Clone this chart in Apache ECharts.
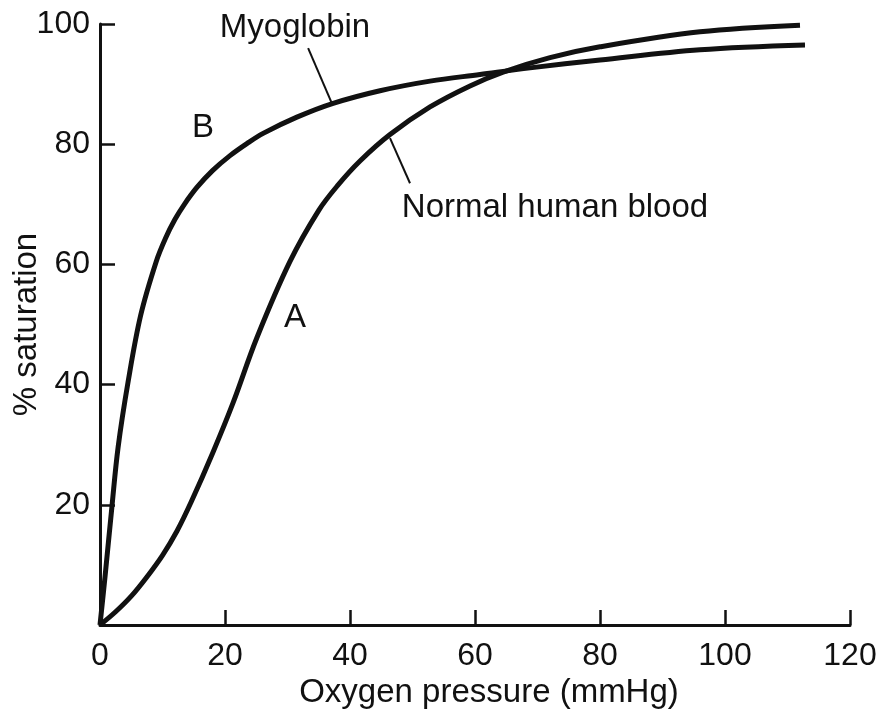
<!DOCTYPE html>
<html>
<head>
<meta charset="utf-8">
<script src="https://cdn.jsdelivr.net/npm/echarts@6/dist/echarts.min.js"></script>
<style>html,body{margin:0;padding:0;background:#fff}#c{width:880px;height:716px}</style>
</head>
<body>
<div id="c"></div>
<script>
// Myoglobin (curve B)
const myoPressure = [0, 0.8, 1.9, 2.9, 4.5, 6.5, 9, 10.5, 12, 13.5, 15.5, 18, 20.8, 23.5, 26.1, 31.5, 37.3, 44.8, 52.8, 60.8, 68.8, 80, 96, 112.8];
const myoSat      = [0, 8, 19.6, 29.6, 40.5, 51.5, 60.5, 64.4, 67.5, 70, 72.8, 75.6, 78.1, 80.1, 81.8, 84.5, 86.8, 88.9, 90.5, 91.6, 92.7, 94.0, 95.7, 96.5];
// Normal human blood (curve A)
const bloodPressure = [0, 2.5, 5, 7.5, 10, 12.3, 14.6, 18.1, 21.3, 25.1, 30.4, 35, 38, 41.6, 46.4, 52.8, 59.2, 64.5, 72, 80, 96, 112];
const bloodSat      = [0, 2.2, 4.8, 8.0, 11.6, 15.6, 20.5, 28.8, 37, 47.8, 60.5, 69, 73.1, 77.2, 81.6, 86.2, 89.7, 92, 94.4, 96.2, 98.7, 99.8];
// axis ticks
const xTicks = [0, 20, 40, 60, 80, 100, 120];
const yTicks = [0, 20, 40, 60, 80, 100];
// annotations (data coordinates)
const labels = [
  {text: 'Myoglobin', at: [31.2, 99.3]},
  {text: 'Normal human blood', at: [72.8, 69.4]},
  {text: 'B', at: [16.5, 82.7]},
  {text: 'A', at: [31.2, 51.1]}
];
const leaders = [
  {from: [33.3, 96.0], to: [37.1, 86.8]},
  {from: [46.4, 81.0], to: [49.6, 73.5]}
];

const FONT = '"Liberation Sans", Arial, Helvetica, sans-serif';
const INK = '#111';
const chart = echarts.init(document.getElementById('c'));
const zip = (a, b) => a.map((v, i) => [v, b[i]]);

chart.setOption({
  animation: false,
  backgroundColor: '#fff',
  grid: {left: 100, right: 30, top: 24, bottom: 91, containLabel: false, outerBoundsMode: 'none'},
  xAxis: {
    type: 'value', min: xTicks[0], max: xTicks[xTicks.length - 1], interval: 20,
    name: 'Oxygen pressure (mmHg)', nameLocation: 'middle', nameGap: 51, nameMoveOverlap: false,
    nameTextStyle: {fontFamily: FONT, fontSize: 33, color: INK, padding: [0, 0, 0, 28]},
    axisLine: {lineStyle: {color: INK, width: 3}},
    axisTick: {inside: true, length: 15, lineStyle: {color: INK, width: 2.5}},
    axisLabel: {margin: 15, fontFamily: FONT, fontSize: 32, color: INK},
    splitLine: {show: false}
  },
  yAxis: {
    type: 'value', min: yTicks[0], max: yTicks[yTicks.length - 1], interval: 20,
    name: '% saturation', nameLocation: 'middle', nameGap: 57, nameMoveOverlap: false,
    nameTextStyle: {fontFamily: FONT, fontSize: 33, color: INK},
    axisLine: {show: true, lineStyle: {color: INK, width: 3}},
    axisTick: {show: true, inside: true, length: 15, lineStyle: {color: INK, width: 2.5}},
    axisLabel: {margin: 10, fontFamily: FONT, fontSize: 32, color: INK,
      formatter: v => v === 0 ? '' : String(v), padding: [10, 0, 0, 0]},
    splitLine: {show: false}
  },
  series: [
    {type: 'line', name: 'Myoglobin', data: zip(myoPressure, myoSat), smooth: 0.35,
      showSymbol: false, lineStyle: {color: INK, width: 5}},
    {type: 'line', name: 'Normal human blood', data: zip(bloodPressure, bloodSat), smooth: 0.35,
      showSymbol: false, lineStyle: {color: INK, width: 5}}
  ]
});

const px = p => chart.convertToPixel({gridIndex: 0}, p);
const graphics = [];
labels.forEach(l => {
  const p = px(l.at);
  graphics.push({type: 'text', x: p[0], y: p[1],
    style: {text: l.text, fill: INK, font: '33px ' + FONT, align: 'center', verticalAlign: 'middle'}});
});
leaders.forEach(l => {
  const a = px(l.from), b = px(l.to);
  graphics.push({type: 'line', shape: {x1: a[0], y1: a[1], x2: b[0], y2: b[1]},
    style: {stroke: INK, lineWidth: 2}});
});
chart.setOption({graphic: graphics});
</script>
</body>
</html>
